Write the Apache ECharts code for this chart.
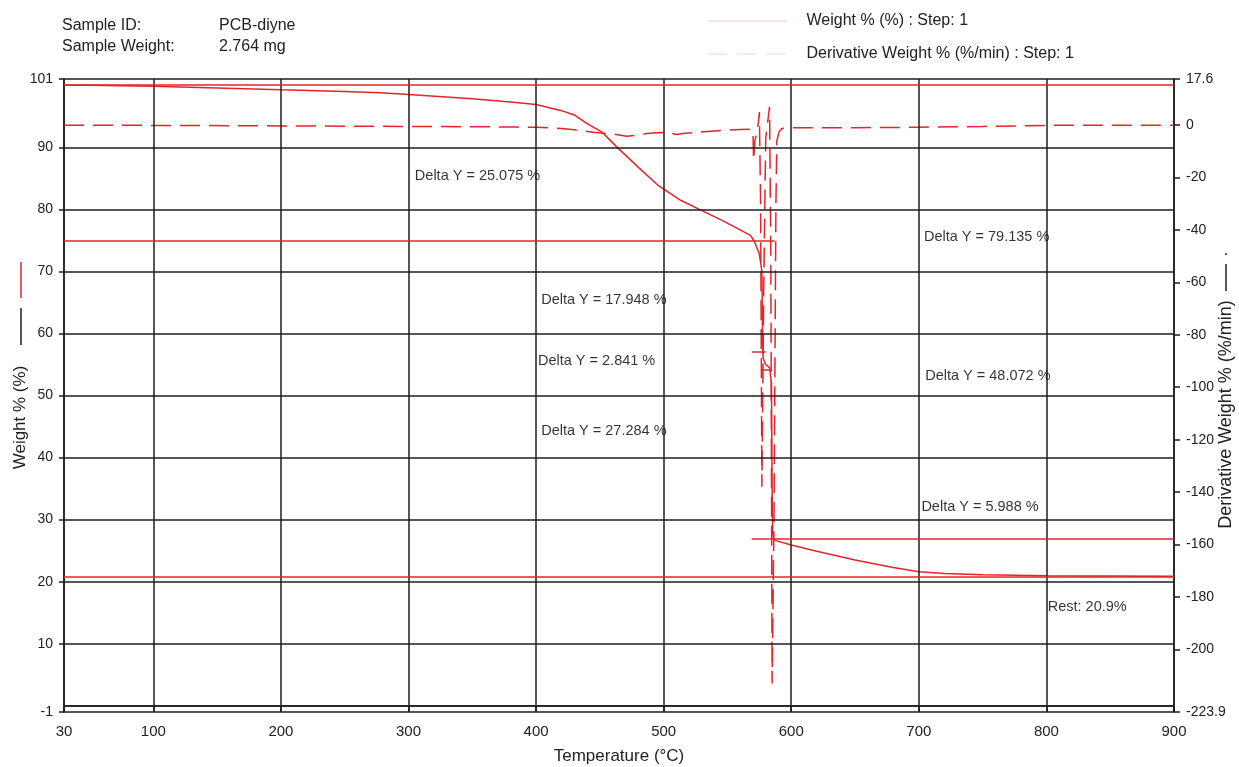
<!DOCTYPE html>
<html><head><meta charset="utf-8">
<script src="https://cdn.jsdelivr.net/npm/echarts@6/dist/echarts.min.js"></script>
<style>html,body{margin:0;padding:0;background:#fff}#c{width:1239px;height:767px}</style>
</head><body><div id="c"></div>
<script>
// ---- data ----
const weightTemps  = [30, 50, 100, 150, 200, 250, 278, 300, 350, 380, 400, 420, 430, 440, 452, 463, 480, 496, 513, 530, 545, 560, 568, 571, 575, 577, 577.5, 578, 580, 583, 584.5, 585, 585.5, 586.5, 600, 620, 650, 680, 700, 720, 750, 800, 850, 900];
const weightValues = [100.0, 99.98, 99.85, 99.55, 99.25, 99.0, 98.8, 98.5, 97.8, 97.3, 96.9, 95.9, 95.2, 93.8, 92.4, 90.1, 86.8, 83.8, 81.5, 79.8, 78.3, 76.7, 75.8, 74.9, 72.8, 70.0, 60.0, 56.0, 55.0, 54.5, 52.0, 35.0, 27.5, 26.7, 25.9, 24.9, 23.5, 22.3, 21.6, 21.3, 21.1, 20.95, 20.9, 20.87];

const derivTemps  = [30, 60, 100, 200, 300, 350, 400, 420, 430, 445, 460, 471, 480, 487, 497, 505, 510, 515, 526, 545, 560, 568, 570, 570.5, 571.5, 573, 574.5, 575, 576, 577, 578.5, 580, 582, 583, 584, 585, 586.5, 588, 588.7, 590.5, 592.6, 600, 650, 700, 750, 800, 850, 900];
const derivValues = [0, 0, -0.1, -0.3, -0.5, -0.6, -0.8, -1.3, -1.8, -2.7, -3.4, -4.2, -3.8, -3.2, -2.8, -3.0, -3.6, -3.2, -2.7, -2.0, -1.7, -1.6, -2.0, -13.4, -6, -3, 2, 5, -30, -138, -60, -5, 3, 7, -50, -213, -150, -30, -6, -2.5, -1.3, -1.0, -1.0, -0.8, -0.5, -0.1, 0, 0];

const stepLevels = [100, 74.925, 56.977, 54.136, 26.852, 20.864];
const stepStarts = [30, 30, 569, 577, 569, 30];
const stepEnds   = [900, 587, 580, 585, 900, 900];

const annTexts  = ['Delta Y = 25.075 %', 'Delta Y = 79.135 %', 'Delta Y = 17.948 %', 'Delta Y = 2.841 %', 'Delta Y = 48.072 %', 'Delta Y = 27.284 %', 'Delta Y = 5.988 %', 'Rest: 20.9%'];
const annTemps  = [305, 704, 404, 401.5, 705, 404, 702, 801];
const annValues = [85.4, 75.6, 65.4, 55.5, 53.2, 44.2, 32.0, 15.9];

const xTickLabels     = [30, 100, 200, 300, 400, 500, 600, 700, 800, 900];
const leftTickLabels  = [-1, 10, 20, 30, 40, 50, 60, 70, 80, 90, 101];
const rightTickLabels = [17.6, 0, -20, -40, -60, -80, -100, -120, -140, -160, -180, -200, -223.9];
const xGridTemps  = [100, 200, 300, 400, 500, 600, 700, 800];
const yGridLevels = [0, 10, 20, 30, 40, 50, 60, 70, 80, 90];

const weightName = 'Weight % (%) : Step: 1';
const derivName  = 'Derivative Weight % (%/min) : Step: 1';

// ---- chart ----
const RED = '#e3242b';
const INK = '#1e1e1e';
const FONT = 'Liberation Sans, Arial, sans-serif';

const chart = echarts.init(document.getElementById('c'));
const option = {
  animation: false,
  backgroundColor: '#fff',
  textStyle: { fontFamily: FONT },
  grid: { left: 64, right: 65, top: 79, bottom: 55, containLabel: false, outerBoundsMode: 'none', show: true, borderColor: INK, borderWidth: 1.5, backgroundColor: 'transparent' },
  legend: {
    orient: 'vertical', left: 702, top: 8, itemWidth: 80, itemHeight: 12, itemGap: 17,
    textStyle: { fontSize: 16, color: '#222', fontFamily: FONT, padding: [0, 0, 0, 14] },
    data: [
      { name: weightName, lineStyle: { color: '#f3c7cb', width: 1 }, itemStyle: { opacity: 0 } },
      { name: derivName, lineStyle: { color: '#f3d3d6', width: 1 }, itemStyle: { opacity: 0 } }
    ]
  },
  xAxis: {
    type: 'value', min: 30, max: 900,
    name: 'Temperature (°C)', nameLocation: 'middle', nameGap: 36, nameMoveOverlap: false,
    nameTextStyle: { fontSize: 17, color: '#222', fontFamily: FONT },
    axisLine: { show: true, lineStyle: { color: INK, width: 1.5 } },
    axisTick: { show: true, customValues: xTickLabels, length: 6, lineStyle: { color: INK, width: 1.5 } },
    axisLabel: { customValues: xTickLabels, fontSize: 15, color: '#222', margin: 12, fontFamily: FONT },
    splitLine: { show: false }
  },
  yAxis: [
    {
      type: 'value', min: -1, max: 101, position: 'left',
      name: 'Weight % (%)', nameLocation: 'middle', nameGap: 35, nameRotate: 90, nameMoveOverlap: false,
      nameTextStyle: { fontSize: 17, color: '#222', fontFamily: FONT, padding: [0, 44, 0, 0] },
      axisLine: { show: true, lineStyle: { color: INK, width: 1.5 } },
      axisTick: { show: true, customValues: leftTickLabels, length: 5, lineStyle: { color: INK, width: 1.5 } },
      axisLabel: { customValues: leftTickLabels, fontSize: 14, color: '#222', margin: 11, fontFamily: FONT },
      splitLine: { show: false }
    },
    {
      type: 'value', min: -223.9, max: 17.6, position: 'right',
      name: 'Derivative Weight % (%/min)', nameLocation: 'middle', nameGap: 43, nameRotate: 90, nameMoveOverlap: false,
      nameTextStyle: { fontSize: 18, color: '#222', fontFamily: FONT, padding: [0, 38, 0, 0] },
      axisLine: { show: true, lineStyle: { color: INK, width: 1.5 } },
      axisTick: { show: true, customValues: rightTickLabels, length: 6, lineStyle: { color: INK, width: 1.5 } },
      axisLabel: { customValues: rightTickLabels, fontSize: 14, color: '#222', margin: 12, fontFamily: FONT },
      splitLine: { show: false }
    }
  ],
  graphic: [
    { type: 'text', left: 62, top: 18, style: { text: 'Sample ID:', font: '16px ' + FONT, fill: '#222' } },
    { type: 'text', left: 62, top: 39, style: { text: 'Sample Weight:', font: '16px ' + FONT, fill: '#222' } },
    { type: 'text', left: 219, top: 18, style: { text: 'PCB-diyne', font: '16px ' + FONT, fill: '#222' } },
    { type: 'text', left: 219, top: 39, style: { text: '2.764 mg', font: '16px ' + FONT, fill: '#222' } },
    { type: 'line', shape: { x1: 21, y1: 262, x2: 21, y2: 298 }, style: { stroke: RED, lineWidth: 1.5 } },
    { type: 'line', shape: { x1: 21, y1: 308, x2: 21, y2: 345 }, style: { stroke: INK, lineWidth: 1.5 } },
    { type: 'line', shape: { x1: 1226, y1: 264, x2: 1226, y2: 291 }, style: { stroke: INK, lineWidth: 1.5 } },
    { type: 'circle', shape: { cx: 1226, cy: 254, r: 1 }, style: { fill: INK } }
  ],
  series: [
    {
      name: 'grid', type: 'line', data: [], silent: true, z: 1,
      markLine: {
        silent: true, symbol: ['none', 'none'], label: { show: false }, animation: false,
        lineStyle: { color: INK, width: 1.5, type: 'solid' },
        data: xGridTemps.map(t => ({ xAxis: t })).concat(yGridLevels.map(v => ({ yAxis: v })))
      }
    },
    {
      name: weightName, type: 'line', yAxisIndex: 0, z: 4,
      data: weightTemps.map((t, i) => [t, weightValues[i]]),
      symbol: 'none', showSymbol: false,
      lineStyle: { color: RED, width: 1.5 }, itemStyle: { color: RED },
      markLine: {
        silent: true, symbol: ['none', 'none'], label: { show: false }, animation: false,
        lineStyle: { color: RED, width: 1.5, type: 'solid' },
        data: stepLevels.map((v, i) => [{ coord: [stepStarts[i], v] }, { coord: [stepEnds[i], v] }])
      }
    },
    {
      name: derivName, type: 'line', yAxisIndex: 1, z: 3,
      data: derivTemps.map((t, i) => [t, derivValues[i]]),
      symbol: 'none', showSymbol: false,
      lineStyle: { color: RED, width: 1.5, type: [20, 9] }, itemStyle: { color: RED }
    },
    {
      name: 'annotations', type: 'scatter', yAxisIndex: 0, z: 5, silent: true,
      symbolSize: 1, itemStyle: { color: 'transparent' },
      data: annTemps.map((t, i) => ({ value: [t, annValues[i]], name: annTexts[i] })),
      label: {
        show: true, position: 'inside', align: 'left', verticalAlign: 'middle',
        formatter: p => p.name, fontSize: 14.5, color: '#000', textBorderWidth: 0, fontFamily: FONT
      }
    }
  ]
};
chart.setOption(option);
</script>
</body></html>
